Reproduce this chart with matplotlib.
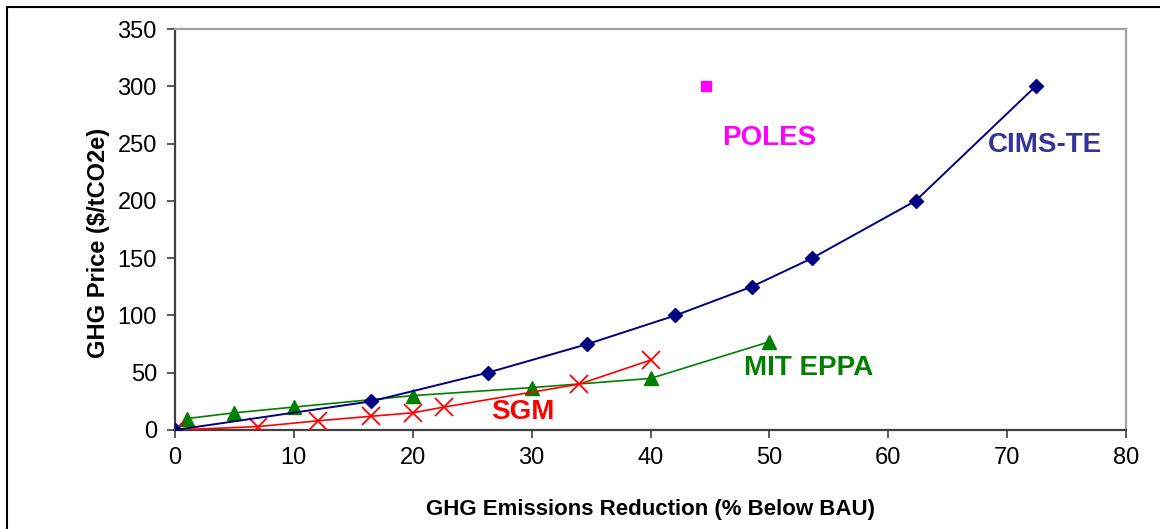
import matplotlib
matplotlib.use("Agg")
import matplotlib.pyplot as plt
from matplotlib.patches import Rectangle

plt.rcParams['font.family'] = ['Liberation Sans', 'DejaVu Sans']

# values
cims_x = [0, 16.5, 26.3, 34.7, 42.1, 48.5, 53.6, 62.3, 72.4]
cims_y = [0, 25, 50, 75, 100, 125, 150, 200, 300]

mit_x = [1, 5, 10, 20, 30, 40, 50]
mit_y = [10, 15, 20, 30, 37, 45, 77]

sgm_x = [0, 7, 12, 16.5, 20, 22.6, 34, 40]
sgm_y = [0, 3, 8, 12, 15, 20, 40, 61]

poles_x = [44.7]
poles_y = [300]

x_ticks = [0, 10, 20, 30, 40, 50, 60, 70, 80]
y_ticks = [0, 50, 100, 150, 200, 250, 300, 350]

fig = plt.figure(figsize=(11.6, 5.29), dpi=100)
ax = fig.add_axes([175 / 1160, 99 / 529, 951 / 1160, 401 / 529])

ax.plot(mit_x, mit_y, color='#008000', lw=1.2, marker='^', ms=10, zorder=3)
ax.plot(sgm_x, sgm_y, color='#FF0000', lw=1.2, marker='x', ms=13, mew=1.3, zorder=4)
ax.plot(cims_x, cims_y, color='#000080', lw=1.4, marker='D', ms=7.5, zorder=5)
ax.plot(poles_x, poles_y, color='#FF00FF', ls='none', marker='s', ms=7, zorder=5)

ax.text(50, 255, 'POLES', color='#FF00FF', fontsize=20, fontweight='bold', ha='center', va='center')
ax.text(73.2, 249, 'CIMS-TE', color='#333399', fontsize=20, fontweight='bold', ha='center', va='center')
ax.text(53.3, 54, 'MIT EPPA', color='#008000', fontsize=20, fontweight='bold', ha='center', va='center')
ax.text(29.3, 16, 'SGM', color='#FF0000', fontsize=20, fontweight='bold', ha='center', va='center')

ax.set_xlim(0, 80)
ax.set_ylim(0, 350)
ax.set_xticks(x_ticks)
ax.set_yticks(y_ticks)
ax.tick_params(axis='both', labelsize=17, length=6, width=1.2, color='#404040', direction='out')
ax.tick_params(axis='y', pad=7)
ax.tick_params(axis='x', pad=6)

for side in ['left', 'bottom']:
    ax.spines[side].set_color('#404040')
    ax.spines[side].set_linewidth(1.6)
for side in ['top', 'right']:
    ax.spines[side].set_color('#a0a0a0')
    ax.spines[side].set_linewidth(1.6)

ax.set_xlabel('GHG Emissions Reduction (% Below BAU)', fontsize=16, fontweight='bold')
ax.set_ylabel('GHG Price ($/tCO2e)', fontsize=17, fontweight='bold')
ax.xaxis.set_label_coords(0.50, -0.172)
ax.yaxis.set_label_coords(-0.068, 0.466)

# outer frame, cut off on right and bottom like the reference
fig.patches.append(Rectangle((7 / 1160, -0.1), 1.2, (522 / 529) + 0.1, transform=fig.transFigure,
                             fill=False, edgecolor='black', lw=1.5, zorder=0))

fig.savefig('out.png', dpi=100)
